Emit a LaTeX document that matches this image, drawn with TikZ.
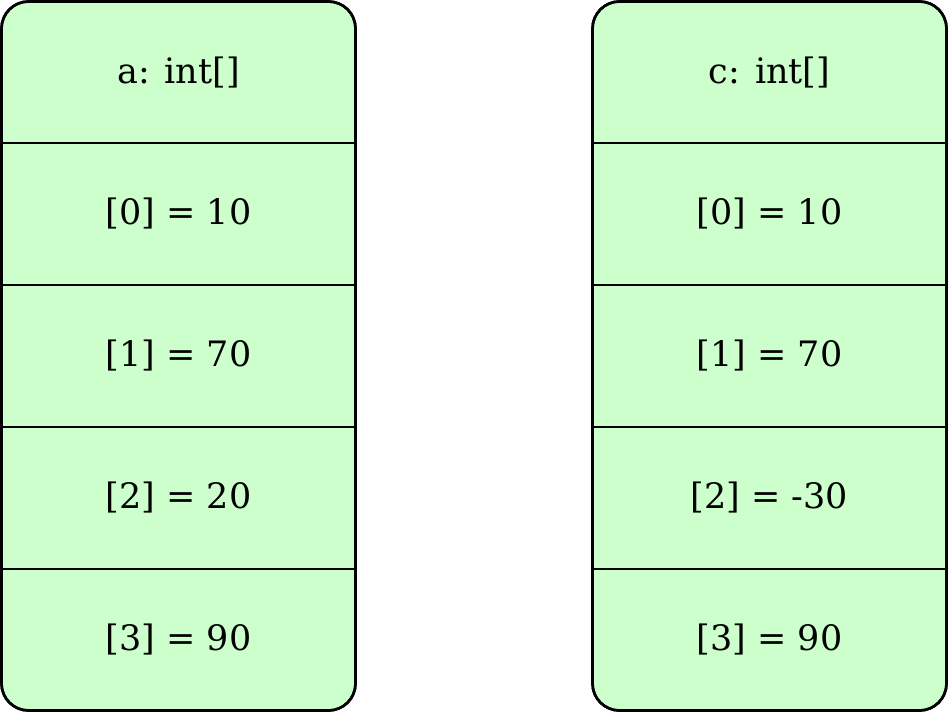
\documentclass[tikz,border=0pt]{standalone}
\usepackage{fontspec}
\setmainfont{DejaVu Serif}
\begin{document}
\begin{tikzpicture}[x=1pt,y=-1pt,
  arraybox/.style={draw=black,line width=2.6pt,fill=cellgreen,rounded corners=27pt},
  sepline/.style={draw=black,line width=1.3pt},
  celltext/.style={font=\fontsize{35}{41}\selectfont,text=black,inner sep=0pt,anchor=center}]
\definecolor{cellgreen}{HTML}{CCFFCC}
\useasboundingbox (0,0) rectangle (948,712);
% left array
\path[arraybox] (1.5,1.5) rectangle (355.5,710.5);
\foreach \yy in {143,285,427,569} \draw[sepline] (1.5,\yy) -- (355.5,\yy);
\path[arraybox,fill=none] (1.5,1.5) rectangle (355.5,710.5);
\node[celltext] (a0) at (178.5,73) {a: int[]};
\node[celltext] (a1) at (178.5,214) {[0] = 10};
\node[celltext] (a2) at (178.5,356) {[1] = 70};
\node[celltext] (a3) at (178.5,498) {[2] = 20};
\node[celltext] (a4) at (178.5,640) {[3] = 90};
% right array
\path[arraybox] (592.5,1.5) rectangle (946.5,710.5);
\foreach \yy in {143,285,427,569} \draw[sepline] (592.5,\yy) -- (946.5,\yy);
\path[arraybox,fill=none] (592.5,1.5) rectangle (946.5,710.5);
\node[celltext] (c0) at (769.5,73) {c: int[]};
\node[celltext] (c1) at (769.5,214) {[0] = 10};
\node[celltext] (c2) at (769.5,356) {[1] = 70};
\node[celltext] (c3) at (769.5,498) {[2] = -30};
\node[celltext] (c4) at (769.5,640) {[3] = 90};
\end{tikzpicture}
\end{document}
